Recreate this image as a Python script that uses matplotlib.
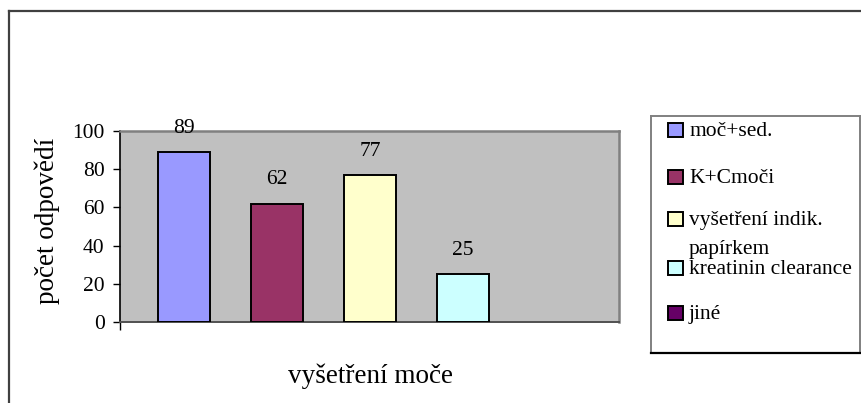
import matplotlib.pyplot as plt
import matplotlib.patches as patches
from matplotlib.lines import Line2D

# odpovědi na otázku k vyšetření moče
kategorie = ["moč+sed.", "K+Cmoči", "vyšetření indik.\npapírkem", "kreatinin clearance", "jiné"]
pocty = [89, 62, 77, 25, None]
barvy = ["#9999FF", "#993366", "#FFFFCC", "#CCFFFF", "#660066"]
y_ticky = [0, 20, 40, 60, 80, 100]

plt.rcParams['font.family'] = ['Liberation Serif', 'DejaVu Serif']

W, H = 861, 403
fig = plt.figure(figsize=(W / 100, H / 100), dpi=100)

def px(x, y):
    # pixely od levého horního rohu -> souřadnice obrázku
    return x / W, 1 - y / H

# vnější rámeček grafu
fig.add_artist(Line2D([9 / W, 9 / W], [0, 1 - 11 / H], color="#404040", lw=1.6))
fig.add_artist(Line2D([9 / W, 1], [1 - 11 / H, 1 - 11 / H], color="#404040", lw=1.6))

# oblast grafu
ax = fig.add_axes([120 / W, (H - 322) / H, (619 - 120) / W, (322 - 131) / H])
ax.set_facecolor("#C0C0C0")
for i, (v, c) in enumerate(zip(pocty, barvy)):
    if v is None:
        continue
    ax.bar(i, v, width=0.56, color=c, edgecolor="black", linewidth=1.4, zorder=3)
    ax.annotate(str(v), (i, v), xytext=(0, 17), textcoords="offset points",
                ha="center", va="center", fontsize=15.5)

ax.set_xlim(-0.688, 4.677)
ax.set_ylim(0, 100)
ax.set_yticks(y_ticky)
ax.tick_params(axis="y", direction="out", length=5, width=1, labelsize=15.5, pad=6, color="black")
ax.set_xticks([-0.688])
ax.set_xticklabels([""])
ax.tick_params(axis="x", direction="out", length=6, width=1, color="black")

ax.spines["top"].set_color("#808080")
ax.spines["right"].set_color("#808080")
ax.spines["top"].set_linewidth(1.8)
ax.spines["right"].set_linewidth(1.8)
ax.spines["left"].set_color("black")
ax.spines["bottom"].set_color("#505050")
ax.spines["left"].set_linewidth(1.2)
ax.spines["bottom"].set_linewidth(1.4)

# popisky os
x, y = px(47, 221)
fig.text(x, y, "počet odpovědí", rotation=90, ha="center", va="center", fontsize=19.5)
x, y = px(370, 376)
fig.text(x, y, "vyšetření moče", ha="center", va="center", fontsize=19.5)

# legenda
x0, y0 = px(651, 116)
x1, y1 = px(860, 353)
fig.add_artist(patches.Rectangle((x0, y1), x1 - x0, y0 - y1, transform=fig.transFigure,
                                 facecolor="white", edgecolor="none"))
fig.add_artist(Line2D([x0, x1], [y0, y0], color="#808080", lw=1.4))
fig.add_artist(Line2D([x0, x0], [y1, y0], color="#808080", lw=1.4))
fig.add_artist(Line2D([x1, x1], [y1, y0], color="#808080", lw=1.4))
fig.add_artist(Line2D([x0, 1], [y1, y1], color="black", lw=1.6))

radky = [130, 177, 219, 268, 313]
for text, c, yr in zip(kategorie, barvy, radky):
    mx, my = px(668, yr + 7)
    fig.add_artist(patches.Rectangle((mx, my), 15 / W, 14 / H, transform=fig.transFigure,
                                     facecolor=c, edgecolor="black", linewidth=1.4))
    for j, radek in enumerate(text.split("\n")):
        tx, ty = px(689, yr + 6 + 29 * j)
        fig.text(tx, ty, radek, ha="left", va="baseline", fontsize=15.5)

fig.savefig("out.png", dpi=100)
